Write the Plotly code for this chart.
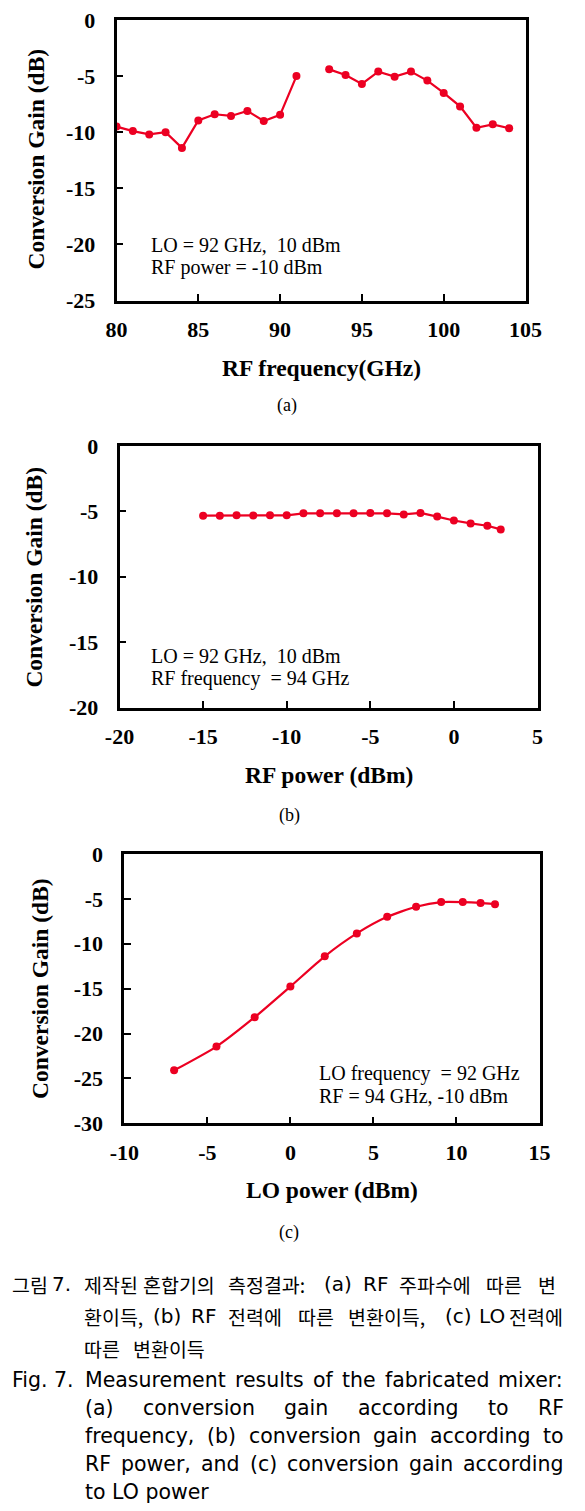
import plotly.graph_objects as go

PAGE_W, PAGE_H = 585, 1511
OFF = 8                      # default page body margin
W, H = PAGE_W - OFF, PAGE_H - OFF

# ---------------- data ----------------
# (a) conversion gain vs RF frequency (92 GHz = LO, no point)
rf_freq = [80, 81, 82, 83, 84, 85, 86, 87, 88, 89, 90, 91, 92,
           93, 94, 95, 96, 97, 98, 99, 100, 101, 102, 103, 104]
gain_a = [-9.5, -9.9, -10.2, -10.0, -11.4, -8.95, -8.4, -8.55, -8.1, -9.0, -8.45, -5.0, None,
          -4.4, -4.9, -5.7, -4.6, -5.05, -4.6, -5.4, -6.5, -7.7, -9.6, -9.3, -9.65]

# (b) conversion gain vs RF power
rf_power = [-15, -14, -13, -12, -11, -10, -9, -8, -7, -6, -5, -4, -3, -2, -1, 0, 1, 2, 2.8]
gain_b = [-5.33, -5.33, -5.3, -5.32, -5.3, -5.3, -5.15, -5.15, -5.15, -5.15, -5.12, -5.15,
          -5.23, -5.12, -5.4, -5.7, -5.92, -6.1, -6.38]

# (c) conversion gain vs LO power
lo_power = [-7, -4.45, -2.15, 0, 2.07, 4.0, 5.83, 7.57, 9.08, 10.38, 11.45, 12.32]
gain_c = [-24.1, -21.45, -18.18, -14.76, -11.4, -8.85, -7.0, -5.87, -5.35, -5.35, -5.45, -5.6]

# axis ticks
xt_a = [80, 85, 90, 95, 100, 105]
yt_a = [0, -5, -10, -15, -20, -25]
xt_b = [-20, -15, -10, -5, 0, 5]
yt_b = [0, -5, -10, -15, -20]
xt_c = [-10, -5, 0, 5, 10, 15]
yt_c = [0, -5, -10, -15, -20, -25, -30]

RED = "rgb(236,0,34)"
SERIF = "Liberation Serif, Times New Roman, serif"
KOR = "Noto Sans CJK KR"
ENG = "DejaVu Sans"


def lab(v):
    return [str(t) for t in v]


def px_x(x):
    return (x - OFF) / W


def px_y(y):
    return 1 - (y - OFF) / H


fig = go.Figure()

fig.add_trace(go.Scatter(x=rf_freq, y=gain_a, mode="lines+markers", connectgaps=False,
                         line=dict(color=RED, width=2.2), marker=dict(color=RED, size=8),
                         xaxis="x", yaxis="y", showlegend=False))
fig.add_trace(go.Scatter(x=rf_power, y=gain_b, mode="lines+markers",
                         line=dict(color=RED, width=2.2), marker=dict(color=RED, size=8),
                         xaxis="x2", yaxis="y2", showlegend=False))
fig.add_trace(go.Scatter(x=lo_power, y=gain_c, mode="lines+markers",
                         line=dict(color=RED, width=2.2, shape="spline", smoothing=0.6),
                         marker=dict(color=RED, size=8),
                         xaxis="x3", yaxis="y3", showlegend=False))

panels = [
    # (suffix, xdomain px, ydomain px, xrange, yrange, xticks, yticks)
    ("", (116.5, 525.5), (20, 300.5), (80, 105), (-25, 0), xt_a, yt_a),
    ("2", (119.5, 537.5), (446, 707.5), (-20, 5), (-20, 0), xt_b, yt_b),
    ("3", (124.3, 539.5), (854, 1123.3), (-10, 15), (-30, 0), xt_c, yt_c),
]

layout = dict(
    width=W, height=H, margin=dict(l=0, r=0, t=0, b=0, autoexpand=False),
    paper_bgcolor="white", plot_bgcolor="white",
)

axis_common = dict(showline=True, linecolor="black", linewidth=2.6, mirror=True,
                   showgrid=False, zeroline=False, ticks="inside", ticklen=7,
                   tickwidth=2.4, tickcolor="black", automargin=False,
                   ticklabeloverflow="allow",
                   tickfont=dict(family=SERIF, size=22, color="black", weight="bold"))

for suf, xd, yd, xr, yr, xt, yt in panels:
    layout["xaxis" + suf] = dict(
        axis_common, domain=[px_x(xd[0]), px_x(xd[1])], range=list(xr),
        tickmode="array", tickvals=xt, ticktext=lab(xt),
        anchor="y" + suf, ticklabelstandoff=7)
    layout["yaxis" + suf] = dict(
        axis_common, domain=[px_y(yd[1]), px_y(yd[0])], range=list(yr),
        tickmode="array", tickvals=yt, ticktext=lab(yt),
        anchor="x" + suf, ticklabelstandoff=14)

fig.update_layout(**layout)

ann = []


def text(x, y, t, size, family, bold=False, xanchor="left", angle=0):
    ann.append(dict(x=px_x(x), y=px_y(y), xref="paper", yref="paper", text=t,
                    showarrow=False, xanchor=xanchor, yanchor="middle", textangle=angle,
                    font=dict(family=family, size=size, color="black",
                              weight="bold" if bold else "normal")))


# axis titles
text(35.5, 159, "Conversion Gain (dB)", 23.5, SERIF, True, "center", -90)
text(321, 368, "RF frequency(GHz)", 23.5, SERIF, True, "center")
text(287, 405, "(a)", 18, SERIF, False, "center")

text(33.6, 577, "Conversion Gain (dB)", 23.5, SERIF, True, "center", -90)
text(328.5, 775, "RF power (dBm)", 23.5, SERIF, True, "center")
text(289, 815, "(b)", 18, SERIF, False, "center")

text(40, 989, "Conversion Gain (dB)", 23.5, SERIF, True, "center", -90)
text(332, 1190, "LO power (dBm)", 23.5, SERIF, True, "center")
text(289, 1232, "(c)", 18, SERIF, False, "center")

# in-plot notes
text(149, 245, "LO = 92 GHz,  10 dBm", 20, SERIF)
text(149, 267, "RF power = -10 dBm", 20, SERIF)
text(148.5, 656, "LO = 92 GHz,  10 dBm", 20, SERIF)
text(148.5, 678, "RF frequency  = 94 GHz", 20, SERIF)
text(316.7, 1073, "LO frequency  = 92 GHz", 20, SERIF)
text(316.7, 1096, "RF = 94 GHz, -10 dBm", 20, SERIF)


def is_hangul(w):
    return any(0xAC00 <= ord(c) <= 0xD7A3 for c in w)


# caption (Korean) -- justified lines, word by word
cap_ko = [
    (1284, [(10, "그림"), (50, "7."), (82, "제작된"), (141, "혼합기의"), (226, "측정결과:"),
            (322, "(a)"), (361, "RF"), (397, "주파수에"), (484, "따른"), (536, "변")]),
    (1316, [(82, "환이득,"), (151, "(b)"), (189, "RF"), (226, "전력에"), (296, "따른"),
            (346, "변환이득,"), (443, "(c)"), (477, "LO"), (507, "전력에")]),
    (1348, [(82, "따른"), (131, "변환이득")]),
]
for yy, words in cap_ko:
    for xx, w in words:
        if is_hangul(w):
            text(xx, yy, w, 19.5, KOR)
        else:
            text(xx, yy, w, 20, ENG)

# caption (English)
DEJAVU = {" ": .318, "(": .390, ")": .390, ",": .318, ".": .318, ":": .337,
          "a": .613, "b": .635, "c": .550, "d": .635, "e": .615, "f": .352, "g": .635,
          "h": .634, "i": .278, "l": .278, "m": .974, "n": .634, "o": .612, "p": .635,
          "q": .635, "r": .411, "s": .521, "t": .392, "u": .634, "v": .592, "w": .818,
          "x": .592, "y": .592, "z": .525, "F": .575, "L": .557, "M": .863, "O": .787,
          "R": .695}


def justify(line, x0, x1, y, size, family, table):
    words = line.split(" ")
    ws = [sum(table.get(ch, 0.6) for ch in w) * size for w in words]
    gap = (x1 - x0 - sum(ws)) / (len(words) - 1)
    x = x0
    for w, wd in zip(words, ws):
        text(x, y, w, size, family)
        x += wd + gap


ES = 20.5
text(10, 1380, "Fig. 7.", ES, ENG)
justify("Measurement results of the fabricated mixer:", 83, 562, 1380, ES, ENG, DEJAVU)
justify("(a) conversion gain according to RF", 83, 562, 1408, ES, ENG, DEJAVU)
justify("frequency, (b) conversion gain according to", 83, 562, 1436, ES, ENG, DEJAVU)
justify("RF power, and (c) conversion gain according", 83, 562, 1464, ES, ENG, DEJAVU)
text(83, 1492, "to LO power", ES, ENG)

fig.update_layout(annotations=ann)

fig.write_html("out.html")
